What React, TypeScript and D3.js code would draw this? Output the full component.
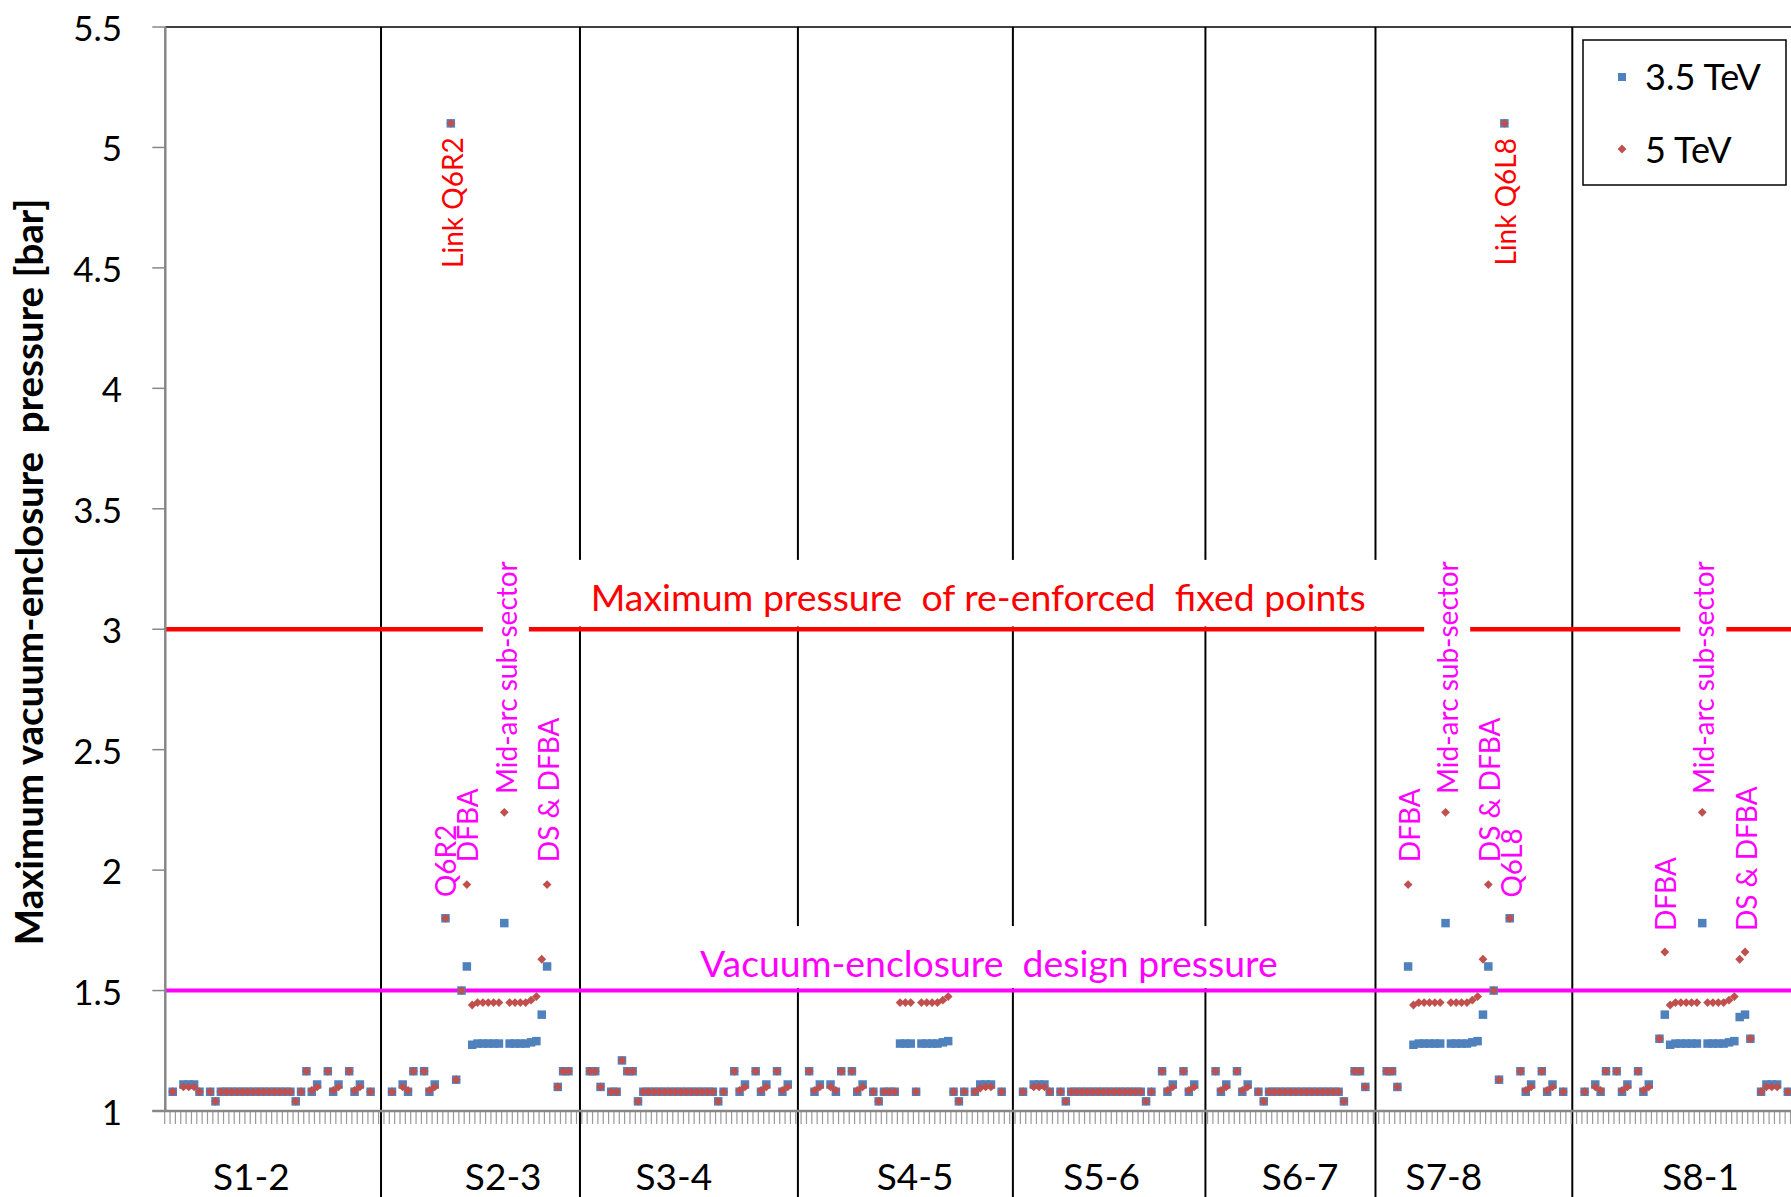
import { useEffect, useRef } from 'react';
import * as d3 from 'd3';

const _ = null;

// Maximum vacuum-enclosure pressure per sub-sector, sector by sector.
// 3.5 TeV (blue squares)
const s12_35 = [_, 1.08, _, 1.11, 1.11, 1.11, 1.08, _, 1.08, 1.04,
  1.08, 1.08, 1.08, 1.08, 1.08, 1.08, 1.08, 1.08, 1.08, 1.08,
  1.08, 1.08, 1.08, 1.08, 1.04, 1.08, 1.165, 1.08, 1.11, _,
  1.165, 1.08, 1.11, _, 1.165, 1.08, 1.11, _, 1.08, _];
const s23_35 = [_, _, 1.08, _, 1.11, 1.08, 1.165, _, 1.165, 1.08,
  1.11, _, 1.8, 5.1, 1.13, 1.5, 1.6, 1.275, 1.28, 1.28,
  1.28, 1.28, 1.28, 1.78, 1.28, 1.28, 1.28, 1.28, 1.285, 1.29,
  1.4, 1.6, _, 1.1, 1.165, 1.165, _, _];
const s34_35 = [_, 1.165, 1.165, 1.1, _, 1.08, 1.08, 1.21, 1.165, 1.165,
  1.04, 1.08, 1.08, 1.08, 1.08, 1.08, 1.08, 1.08, 1.08, 1.08,
  1.08, 1.08, 1.08, 1.08, 1.08, 1.04, 1.08, _, 1.165, 1.08,
  1.11, _, 1.165, 1.08, 1.11, _, 1.165, 1.08, 1.11, _];
const s45_35 = [_, _, 1.165, 1.08, 1.11, _, 1.11, 1.08, 1.165, _,
  1.165, 1.08, 1.11, _, 1.08, 1.04, 1.08, 1.08, 1.08, 1.28,
  1.28, 1.28, 1.08, 1.28, 1.28, 1.28, 1.28, 1.285, 1.29, 1.08,
  1.04, 1.08, _, 1.08, 1.11, 1.11, 1.11, _, 1.08, _, _];
const s56_35 = [_, 1.08, _, 1.11, 1.11, 1.11, 1.08, _, 1.08, 1.04,
  1.08, 1.08, 1.08, 1.08, 1.08, 1.08, 1.08, 1.08, 1.08, 1.08,
  1.08, 1.08, 1.08, 1.08, 1.04, 1.08, _, 1.165, 1.08, 1.11,
  _, 1.165, 1.08, 1.11, _, _];
const s67_35 = [_, 1.165, 1.08, 1.11, _, 1.165, 1.08, 1.11, _, 1.08,
  1.04, 1.08, 1.08, 1.08, 1.08, 1.08, 1.08, 1.08, 1.08, 1.08,
  1.08, 1.08, 1.08, 1.08, 1.08, 1.04, _, 1.165, 1.165, 1.1,
  _, _];
const s78_35 = [_, 1.165, 1.165, 1.1, _, 1.6, 1.275, 1.28, 1.28, 1.28,
  1.28, 1.28, 1.78, 1.28, 1.28, 1.28, 1.28, 1.285, 1.29, 1.4,
  1.6, 1.5, 1.13, 5.1, 1.8, _, 1.165, 1.08, 1.11, _,
  1.165, 1.08, 1.11, _, 1.08, _];
const s81_35 = [_, _, 1.08, _, 1.11, 1.08, 1.165, _, 1.165, 1.08,
  1.11, _, 1.165, 1.08, 1.11, _, 1.3, 1.4, 1.275, 1.28,
  1.28, 1.28, 1.28, 1.28, 1.78, 1.28, 1.28, 1.28, 1.28, 1.285,
  1.29, 1.39, 1.4, 1.3, _, 1.08, 1.11, 1.11, 1.11, _, 1.08];

// 5 TeV (red diamonds)
const s12_5 = [_, 1.08, _, 1.1, 1.1, 1.1, 1.08, _, 1.08, 1.04,
  1.08, 1.08, 1.08, 1.08, 1.08, 1.08, 1.08, 1.08, 1.08, 1.08,
  1.08, 1.08, 1.08, 1.08, 1.04, 1.08, 1.165, 1.085, 1.1, _,
  1.165, 1.085, 1.1, _, 1.165, 1.085, 1.1, _, 1.08, _];
const s23_5 = [_, _, 1.08, _, 1.1, 1.085, 1.165, _, 1.165, 1.085,
  1.1, _, 1.8, 5.1, 1.13, 1.5, 1.94, 1.44, 1.45, 1.45,
  1.45, 1.45, 1.45, 2.24, 1.45, 1.45, 1.45, 1.45, 1.46, 1.475,
  1.63, 1.94, _, 1.1, 1.165, 1.165, _, _];
const s34_5 = [_, 1.165, 1.165, 1.1, _, 1.08, 1.08, 1.21, 1.165, 1.165,
  1.04, 1.08, 1.08, 1.08, 1.08, 1.08, 1.08, 1.08, 1.08, 1.08,
  1.08, 1.08, 1.08, 1.08, 1.08, 1.04, 1.08, _, 1.165, 1.085,
  1.1, _, 1.165, 1.085, 1.1, _, 1.165, 1.085, 1.1, _];
const s45_5 = [_, _, 1.165, 1.085, 1.1, _, 1.1, 1.085, 1.165, _,
  1.165, 1.085, 1.1, _, 1.08, 1.04, 1.08, 1.08, 1.08, 1.45,
  1.45, 1.45, 1.08, 1.45, 1.45, 1.45, 1.45, 1.46, 1.475, 1.08,
  1.04, 1.08, _, 1.08, 1.095, 1.1, 1.1, _, 1.08, _, _];
const s56_5 = [_, 1.08, _, 1.1, 1.1, 1.1, 1.08, _, 1.08, 1.04,
  1.08, 1.08, 1.08, 1.08, 1.08, 1.08, 1.08, 1.08, 1.08, 1.08,
  1.08, 1.08, 1.08, 1.08, 1.04, 1.08, _, 1.165, 1.085, 1.1,
  _, 1.165, 1.085, 1.1, _, _];
const s67_5 = [_, 1.165, 1.085, 1.1, _, 1.165, 1.085, 1.1, _, 1.08,
  1.04, 1.08, 1.08, 1.08, 1.08, 1.08, 1.08, 1.08, 1.08, 1.08,
  1.08, 1.08, 1.08, 1.08, 1.08, 1.04, _, 1.165, 1.165, 1.1,
  _, _];
const s78_5 = [_, 1.165, 1.165, 1.1, _, 1.94, 1.44, 1.45, 1.45, 1.45,
  1.45, 1.45, 2.24, 1.45, 1.45, 1.45, 1.45, 1.46, 1.475, 1.63,
  1.94, 1.5, 1.13, 5.1, 1.8, _, 1.165, 1.085, 1.1, _,
  1.165, 1.085, 1.1, _, 1.08, _];
const s81_5 = [_, _, 1.08, _, 1.1, 1.085, 1.165, _, 1.165, 1.085,
  1.1, _, 1.165, 1.085, 1.1, _, 1.3, 1.66, 1.44, 1.45,
  1.45, 1.45, 1.45, 1.45, 2.24, 1.45, 1.45, 1.45, 1.45, 1.46,
  1.475, 1.63, 1.66, 1.3, _, 1.08, 1.1, 1.1, 1.1, _, 1.08];

const tev35 = [...s12_35, ...s23_35, ...s34_35, ...s45_35, ...s56_35, ...s67_35, ...s78_35, ...s81_35];
const tev5 = [...s12_5, ...s23_5, ...s34_5, ...s45_5, ...s56_5, ...s67_5, ...s78_5, ...s81_5];

const yTicks = [1, 1.5, 2, 2.5, 3, 3.5, 4, 4.5, 5, 5.5];

const sectorNames = ['S1-2', 'S2-3', 'S3-4', 'S4-5', 'S5-6', 'S6-7', 'S7-8', 'S8-1'];
// label centres and hand-drawn sector dividers, in sub-sector index units
const sectorNameAt = [15.7, 62.8, 94.7, 139.8, 174.7, 211.8, 238.7, 286.7];
const sectorEdges = [39.95, 77.15, 117.9, 158.1, 194.1, 225.9, 262.7];

const limitValues = [3, 1.5];
const limitNames = ['Maximum pressure  of re-enforced  fixed points', 'Vacuum-enclosure  design pressure'];
const limitNameAt = [151.6, 153.6];
const limitNameBase = [3.076, 1.556];

const noteText = ['Link Q6R2', 'Q6R2', 'DFBA', 'Mid-arc sub-sector', 'DS & DFBA',
  'DFBA', 'Mid-arc sub-sector', 'DS & DFBA', 'Q6L8', 'Link Q6L8',
  'DFBA', 'Mid-arc sub-sector', 'DS & DFBA'];
const noteAt = [53.2, 51.9, 56.1, 63.3, 71.2, 232.2, 239.3, 247.1, 251.2, 250.2, 280.1, 287.2, 295.2];
const noteFrom = [4.5, 1.888, 2.033, 2.316, 2.033, 2.033, 2.316, 2.033, 1.886, 4.51, 1.747, 2.316, 1.747];

const W = 1791;
const H = 1197;
const FONT = 'Lato, "Open Sans", sans-serif';
const BLUE = '#4F81BD';
const RED = '#C0504D';

export default function App() {
  const svgRef = useRef<SVGSVGElement | null>(null);

  useEffect(() => {
    if (!svgRef.current) return;
    const svg = d3.select(svgRef.current);
    svg.selectAll('*').remove();

    const n = tev35.length;
    const step = 5.348;
    const left = 164.7;
    const x = d3.scaleLinear().domain([0, n]).range([left, left + n * step]);
    const y = d3.scaleLinear().domain([1, 5.5]).range([1111, 27]);
    const px = (i: number) => x(i + 0.5);
    const axisX = 165.3;

    svg.append('rect').attr('width', W).attr('height', H).attr('fill', '#fff');

    // plot top border
    svg.append('line')
      .attr('x1', axisX).attr('x2', W)
      .attr('y1', y(5.5)).attr('y2', y(5.5))
      .attr('stroke', '#000').attr('stroke-width', 1.5);

    // sector dividers
    sectorEdges.forEach((e) => {
      svg.append('line')
        .attr('x1', px(e)).attr('x2', px(e))
        .attr('y1', y(5.5)).attr('y2', H)
        .attr('stroke', '#000').attr('stroke-width', 2);
    });

    // limit lines
    const limitColors = ['#FF0000', '#FF00FF'];
    const limitWidths = [4.5, 4];
    limitValues.forEach((v, k) => {
      svg.append('line')
        .attr('x1', axisX).attr('x2', W)
        .attr('y1', y(v)).attr('y2', y(v))
        .attr('stroke', limitColors[k]).attr('stroke-width', limitWidths[k]);
    });

    // axes
    const axisColor = '#878787';
    svg.append('line')
      .attr('x1', axisX).attr('x2', axisX)
      .attr('y1', y(5.5)).attr('y2', y(1))
      .attr('stroke', axisColor).attr('stroke-width', 2.5);
    yTicks.forEach((t) => {
      svg.append('line')
        .attr('x1', axisX - 13).attr('x2', axisX)
        .attr('y1', y(t)).attr('y2', y(t))
        .attr('stroke', axisColor).attr('stroke-width', 1.5);
      svg.append('text')
        .attr('x', 122).attr('y', y(t))
        .attr('text-anchor', 'end').attr('dominant-baseline', 'central')
        .attr('font-family', FONT).attr('font-size', 35).attr('fill', '#000')
        .text(String(t));
    });
    d3.range(n + 1).forEach((k) => {
      svg.append('line')
        .attr('x1', x(k)).attr('x2', x(k))
        .attr('y1', y(1)).attr('y2', y(1) + 13)
        .attr('stroke', '#9a9a9a').attr('stroke-width', 1.2);
    });
    svg.append('line')
      .attr('x1', axisX - 13).attr('x2', W)
      .attr('y1', y(1)).attr('y2', y(1))
      .attr('stroke', axisColor).attr('stroke-width', 2.5);

    sectorNames.forEach((s, k) => {
      svg.append('text')
        .attr('x', px(sectorNameAt[k])).attr('y', 1190)
        .attr('text-anchor', 'middle')
        .attr('font-family', FONT).attr('font-size', 37).attr('fill', '#000')
        .text(s);
    });

    svg.append('text')
      .attr('transform', `translate(43,${572}) rotate(-90)`)
      .attr('text-anchor', 'middle')
      .attr('font-family', FONT).attr('font-size', 38.5).attr('font-weight', 'bold')
      .attr('fill', '#000')
      .style('white-space', 'pre')
      .text('Maximum vacuum-enclosure  pressure [bar]');

    // markers
    const sq = 8.5;
    tev35.forEach((v, i) => {
      if (v == null) return;
      svg.append('rect')
        .attr('x', px(i) - sq / 2).attr('y', y(v) - sq / 2)
        .attr('width', sq).attr('height', sq)
        .attr('fill', BLUE);
    });
    const r = 4.4;
    tev5.forEach((v, i) => {
      if (v == null) return;
      const cx = px(i);
      const cy = y(v);
      svg.append('path')
        .attr('d', `M${cx},${cy - r}L${cx + r},${cy}L${cx},${cy + r}L${cx - r},${cy}Z`)
        .attr('fill', RED);
    });

    // limit labels in white text boxes that sit just above their line
    const boxPadX = [14, 12];
    limitNames.forEach((s, k) => {
      const g = svg.append('g');
      const base = y(limitNameBase[k]);
      const t = g.append('text')
        .attr('x', px(limitNameAt[k])).attr('y', base)
        .attr('text-anchor', 'middle')
        .attr('font-family', FONT).attr('font-size', 37.4)
        .attr('fill', limitColors[k])
        .style('white-space', 'pre')
        .text(s);
      const bb = (t.node() as SVGTextElement).getBBox();
      const top = base - 51;
      const bottom = y(limitValues[k]) - limitWidths[k] / 2 - 0.5;
      g.insert('rect', 'text')
        .attr('x', bb.x - boxPadX[k]).attr('y', top)
        .attr('width', bb.width + 2 * boxPadX[k]).attr('height', bottom - top)
        .attr('fill', '#fff');
    });

    // rotated notes
    noteText.forEach((s, k) => {
      const isLink = s.startsWith('Link');
      const g = svg.append('g');
      const tr = `translate(${px(noteAt[k])},${y(noteFrom[k])}) rotate(-90)`;
      const t = g.append('text')
        .attr('transform', tr)
        .attr('dominant-baseline', 'central')
        .attr('font-family', FONT).attr('font-size', 28)
        .attr('fill', isLink ? '#FF0000' : '#FF00FF')
        .text(s);
      if (s.startsWith('Mid')) {
        const bb = (t.node() as SVGTextElement).getBBox();
        g.insert('rect', 'text')
          .attr('transform', tr)
          .attr('x', bb.x - 4).attr('y', bb.y - 6)
          .attr('width', bb.width + 8).attr('height', bb.height + 12)
          .attr('fill', '#fff');
      }
    });

    // legend
    const lg = svg.append('g');
    lg.append('rect')
      .attr('x', 1583).attr('y', 40).attr('width', 203).attr('height', 145)
      .attr('fill', '#fff').attr('stroke', '#000').attr('stroke-width', 1.5);
    lg.append('rect')
      .attr('x', 1622 - 4).attr('y', 77 - 4).attr('width', 8).attr('height', 8)
      .attr('fill', BLUE);
    lg.append('path')
      .attr('d', `M1622,${149 - r}L${1622 + r},149L1622,${149 + r}L${1622 - r},149Z`)
      .attr('fill', RED);
    [['3.5 TeV', 76], ['5 TeV', 149]].forEach(([s, cy]) => {
      lg.append('text')
        .attr('x', 1645).attr('y', cy as number)
        .attr('dominant-baseline', 'central')
        .attr('font-family', FONT).attr('font-size', 36).attr('fill', '#000')
        .text(s as string);
    });
  }, []);

  return (
    <svg
      ref={svgRef}
      width={W}
      height={H}
      style={{ position: 'absolute', left: 0, top: 0, display: 'block' }}
    />
  );
}
